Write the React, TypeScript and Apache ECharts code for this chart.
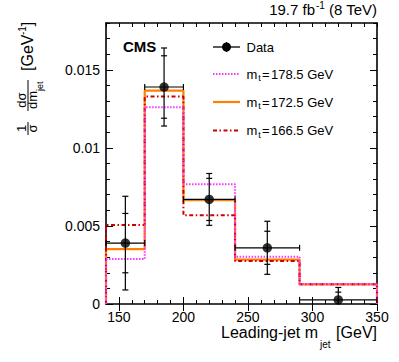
import React, { useEffect, useRef } from 'react';
import * as echarts from 'echarts';

const binEdges = [140, 170, 200, 240, 290, 350];
const dataValues = [0.0039, 0.0139, 0.0067, 0.0036, 0.00026];
const dataTotErr = [0.003, 0.0025, 0.00166, 0.0017, 0.0008];
const dataStatErr = [0.0019, 0.002, 0.00135, 0.00106, 0.0005];
const mt1785 = [0.00288, 0.01261, 0.00767, 0.00303, 0.00128];
const mt1725 = [0.00351, 0.01367, 0.00665, 0.00284, 0.00126];
const mt1665 = [0.00506, 0.01329, 0.00568, 0.00276, 0.00126];
const xMajorTicks = [150, 200, 250, 300, 350];
const yMajorTicks = [0, 0.005, 0.01, 0.015];

const FONT = 'Liberation Sans, Arial, Helvetica, sans-serif';
const MAGENTA = '#ff33ff';
const ORANGE = '#ff8000';
const RED = '#cc0000';

function histData(vals: number[]) {
  const pts: number[][] = [[binEdges[0], 0]];
  vals.forEach((v, i) => pts.push([binEdges[i], v]));
  pts.push([binEdges[binEdges.length - 1], vals[vals.length - 1]]);
  pts.push([binEdges[binEdges.length - 1], 0]);
  return pts;
}

function txt(x: number, y: number, text: string, size: number, opts: any = {}) {
  const align = opts.align || 'left';
  const valign = 'middle';
  return {
    type: 'text',
    x,
    y,
    rotation: opts.rotation || 0,
    silent: true,
    style: {
      text,
      fontSize: size,
      fontFamily: FONT,
      fontWeight: opts.bold ? 'bold' : 'normal',
      fill: '#000',
      align,
      verticalAlign: valign,
      textAlign: align,
      textVerticalAlign: valign,
    },
  };
}

function ln(x1: number, y1: number, x2: number, y2: number, stroke: string, width: number, dash?: any) {
  return {
    type: 'line',
    silent: true,
    shape: { x1, y1, x2, y2 },
    style: { stroke, lineWidth: width, lineDash: dash || null },
  };
}

const R = Math.PI / 2;

export default function App() {
  const ref = useRef<HTMLDivElement>(null);
  useEffect(() => {
    if (!ref.current) return;
    const chart = echarts.init(ref.current, undefined, { renderer: 'svg' });

    const lineStyleAxis = { color: '#000', width: 1.6 };
    const tickStyle = { color: '#000', width: 1 };
    const xBase = { type: 'value', min: 140, max: 350, gridIndex: 0, splitLine: { show: false } };
    const yBase = { type: 'value', min: 0, max: 0.018, gridIndex: 0, splitLine: { show: false } };

    const xAxes = [
      {
        ...xBase,
        position: 'bottom',
        interval: 10,
        axisLine: { show: true, onZero: false, lineStyle: lineStyleAxis },
        axisTick: { show: true, inside: true, length: 4, lineStyle: tickStyle },
        axisLabel: {
          show: true,
          formatter: (v: number) => (Math.round(v) % 50 === 0 && v > 140 ? String(Math.round(v)) : ''),
          fontSize: 14,
          fontFamily: FONT,
          color: '#000',
          margin: 6,
        },
      },
      {
        ...xBase,
        position: 'bottom',
        axisLine: { show: false },
        axisTick: { show: true, inside: true, length: 7, lineStyle: tickStyle, customValues: xMajorTicks },
        axisLabel: { show: false },
      },
      {
        ...xBase,
        position: 'top',
        interval: 10,
        axisLine: { show: true, onZero: false, lineStyle: lineStyleAxis },
        axisTick: { show: true, inside: true, length: 4, lineStyle: tickStyle },
        axisLabel: { show: false },
      },
      {
        ...xBase,
        position: 'top',
        axisLine: { show: false },
        axisTick: { show: true, inside: true, length: 7, lineStyle: tickStyle, customValues: xMajorTicks },
        axisLabel: { show: false },
      },
    ];

    const yAxes = [
      {
        ...yBase,
        position: 'left',
        interval: 0.001,
        axisLine: { show: true, onZero: false, lineStyle: lineStyleAxis },
        axisTick: { show: true, inside: true, length: 4, lineStyle: tickStyle },
        axisLabel: {
          show: true,
          formatter: (v: number) => {
            const k = Math.round(v * 1000);
            if (k % 5 !== 0 || k > 15) return '';
            return k === 0 ? '0' : String(k / 1000);
          },
          fontSize: 14,
          fontFamily: FONT,
          color: '#000',
          margin: 6,
        },
      },
      {
        ...yBase,
        position: 'left',
        axisLine: { show: false },
        axisTick: { show: true, inside: true, length: 7, lineStyle: tickStyle, customValues: yMajorTicks },
        axisLabel: { show: false },
      },
      {
        ...yBase,
        position: 'right',
        interval: 0.001,
        axisLine: { show: true, onZero: false, lineStyle: lineStyleAxis },
        axisTick: { show: true, inside: true, length: 4, lineStyle: tickStyle },
        axisLabel: { show: false },
      },
      {
        ...yBase,
        position: 'right',
        axisLine: { show: false },
        axisTick: { show: true, inside: true, length: 7, lineStyle: tickStyle, customValues: yMajorTicks },
        axisLabel: { show: false },
      },
    ];

    const histSeries = (name: string, vals: number[], color: string, type: any, width: number, z: number) => ({
      name,
      type: 'line',
      step: 'end',
      xAxisIndex: 0,
      yAxisIndex: 0,
      data: histData(vals),
      showSymbol: false,
      symbol: 'none',
      z,
      lineStyle: { color, width, type },
      silent: true,
    });

    const errData = dataValues.map((v, i) => [
      (binEdges[i] + binEdges[i + 1]) / 2,
      v,
      binEdges[i],
      binEdges[i + 1],
      v - dataTotErr[i],
      v + dataTotErr[i],
      v - dataStatErr[i],
      v + dataStatErr[i],
    ]);

    const legendX1 = 213;
    const legendX2 = 240;
    const textX = 246.5;
    const rows = [47, 74, 102, 130.5];

    const graphic: any[] = [
      // top right luminosity text
      txt(315, 9.8, '19.7 fb', 15, { align: 'right' }),
      txt(316, 5.5, '-1', 10),
      txt(377, 9.8, '(8 TeV)', 15, { align: 'right' }),
      // CMS
      txt(123, 46.5, 'CMS', 15, { bold: true }),
      // x title
      txt(318, 332.4, 'Leading-jet m', 16, { align: 'right' }),
      txt(320, 344.5, 'jet', 10),
      txt(377, 332.4, '[GeV]', 16, { align: 'right' }),
      // y title (rotated)
      txt(27.7, 71, '[GeV', 16, { rotation: R }),
      txt(22, 35, '-1', 10, { rotation: R }),
      txt(27.7, 26.3, ']', 16, { rotation: R }),
      txt(21.5, 100, 'd\u03c3', 13, { rotation: R, align: 'center' }),
      ln(28, 80, 28, 111, '#000', 1),
      txt(32.5, 109, 'dm', 13, { rotation: R }),
      txt(39.5, 91, 'jet', 9, { rotation: R }),
      txt(21.5, 128.5, '1', 13, { rotation: R, align: 'center' }),
      ln(28, 122, 28, 135, '#000', 1),
      txt(32.5, 128.5, '\u03c3', 13, { rotation: R, align: 'center' }),
      // legend: Data
      ln(legendX1, rows[0], legendX2, rows[0], '#000', 1.3),
      ln(226.5, rows[0] - 5, 226.5, rows[0] + 5, '#000', 1.3),
      { type: 'circle', silent: true, shape: { cx: 226.5, cy: rows[0], r: 4.5 }, style: { fill: '#000' } },
      txt(textX, rows[0], 'Data', 13),
      // legend: histograms
      ln(legendX1, rows[1], legendX2, rows[1], MAGENTA, 2, [1.5, 1.5]),
      ln(legendX1, rows[2], legendX2, rows[2], ORANGE, 2.2),
      ln(legendX1, rows[3], legendX2, rows[3], RED, 2, [4, 2.5, 1.5, 2.5]),
    ];
    const labels = ['178.5 GeV', '172.5 GeV', '166.5 GeV'];
    labels.forEach((l, i) => {
      const y = rows[i + 1];
      graphic.push(txt(textX, y, 'm', 13));
      graphic.push(txt(258.3, y + 4, 't', 9));
      graphic.push(txt(262, y, '=', 13));
      graphic.push(txt(271, y, l, 13));
    });

    const option: any = {
      animation: false,
      backgroundColor: '#fff',
      grid: { left: 106, top: 23, right: 22, bottom: 58, containLabel: false },
      xAxis: xAxes,
      yAxis: yAxes,
      graphic,
      series: [
        histSeries('mt172.5', mt1725, ORANGE, 'solid', 2.2, 2),
        histSeries('mt166.5', mt1665, RED, [4, 2.5, 1.5, 2.5], 2, 3),
        histSeries('mt178.5', mt1785, MAGENTA, [1.5, 1.5], 2, 4),
        {
          name: 'Data errors',
          type: 'custom',
          xAxisIndex: 0,
          yAxisIndex: 0,
          z: 5,
          silent: true,
          data: errData,
          encode: { x: 0, y: 1 },
          renderItem: (params: any, api: any) => {
            const yv = api.value(1);
            const c = api.coord([api.value(0), yv]);
            const xl = api.coord([api.value(2), yv])[0];
            const xr = api.coord([api.value(3), yv])[0];
            const yMinPx = api.coord([api.value(0), 0])[1];
            const totLo = api.value(4);
            const totLoPx = api.coord([api.value(0), Math.max(totLo, 0)])[1];
            const totHiPx = api.coord([api.value(0), api.value(5)])[1];
            const stLo = api.value(6);
            const stLoPx = api.coord([api.value(0), Math.max(stLo, 0)])[1];
            const stHiPx = api.coord([api.value(0), api.value(7)])[1];
            const st = { stroke: '#000', lineWidth: 1.2 };
            const L = (x1: number, y1: number, x2: number, y2: number) => ({
              type: 'line',
              shape: { x1, y1, x2, y2 },
              style: st,
            });
            const ch: any[] = [
              L(xl, c[1], xr, c[1]),
              L(xl, c[1] - 3, xl, c[1] + 3),
              L(xr, c[1] - 3, xr, c[1] + 3),
              L(c[0], totLoPx, c[0], totHiPx),
              L(c[0] - 3, totHiPx, c[0] + 3, totHiPx),
              L(c[0] - 3, stHiPx, c[0] + 3, stHiPx),
            ];
            if (totLo > 0) ch.push(L(c[0] - 3, totLoPx, c[0] + 3, totLoPx));
            if (stLo > 0) ch.push(L(c[0] - 3, stLoPx, c[0] + 3, stLoPx));
            void yMinPx;
            return { type: 'group', children: ch };
          },
        },
        {
          name: 'Data',
          type: 'scatter',
          xAxisIndex: 0,
          yAxisIndex: 0,
          z: 6,
          silent: true,
          symbol: 'circle',
          symbolSize: 9.5,
          itemStyle: { color: '#000' },
          data: dataValues.map((v, i) => [(binEdges[i] + binEdges[i + 1]) / 2, v]),
        },
      ],
    };
    chart.setOption(option);
    return () => chart.dispose();
  }, []);

  return (
    <div
      ref={ref}
      style={{ position: 'fixed', left: 0, top: 0, width: 399, height: 362, background: '#fff' }}
    />
  );
}
